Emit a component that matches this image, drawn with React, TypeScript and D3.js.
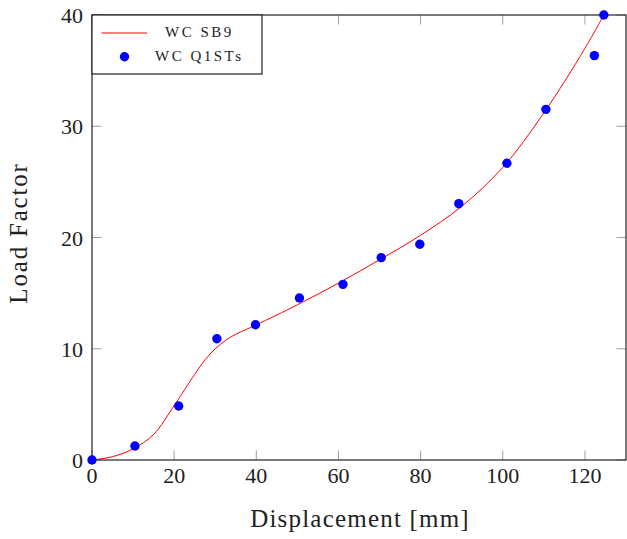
import React from "react";
import * as d3 from "d3";

const lineX = [0, 5, 10, 15, 20, 25, 27.5, 30, 32.5, 35, 40, 50, 60, 70, 80, 90, 100, 110, 120, 124.6];
const lineY = [0, 0.3, 1.0, 2.3, 4.9, 7.7, 9.0, 10.0, 10.75, 11.3, 12.15, 13.95, 15.9, 18.0, 20.2, 22.8, 26.3, 31.2, 37.0, 40.0];

const ptX = [0, 10.45, 21.1, 30.4, 39.8, 50.5, 61.1, 70.4, 79.8, 89.3, 101.0, 110.5, 122.3, 124.6];
const ptY = [0, 1.26, 4.85, 10.9, 12.16, 14.56, 15.79, 18.19, 19.39, 23.04, 26.67, 31.52, 36.35, 40.0];

const xTicks = [0, 20, 40, 60, 80, 100, 120];
const yTicks = [0, 10, 20, 30, 40];

const seriesNames = ["WC SB9", "WC Q1STs"];
const xLabel = "Displacement [mm]";
const yLabel = "Load Factor";

export default function App() {
  const W = 627, H = 539;
  const left = 92, right = 626, top = 15, bottom = 460;
  const x = d3.scaleLinear().domain([0, 130]).range([left, right]);
  const y = d3.scaleLinear().domain([0, 40]).range([bottom, top]);
  const font = "'Liberation Serif', 'DejaVu Serif', serif";
  const linePts: [number, number][] = lineX.map((v, i) => [v, lineY[i]]);
  const path = d3.line<[number, number]>().x(d => x(d[0])).y(d => y(d[1])).curve(d3.curveCatmullRom.alpha(0.5))(linePts) || "";
  const tl = 9.5;
  return (
    <svg width={W} height={H} style={{ position: "absolute", left: 0, top: 0, background: "#fff" }} fontFamily={font}>
      {xTicks.map(t => (
        <g key={"x" + t}>
          <line x1={x(t)} x2={x(t)} y1={bottom} y2={bottom - tl} stroke="#a0a0a0" />
          <line x1={x(t)} x2={x(t)} y1={top} y2={top + tl} stroke="#a0a0a0" />
          <text x={x(t)} y={483} textAnchor="middle" fontSize={22} fill="#222">{t}</text>
        </g>
      ))}
      {yTicks.map(t => (
        <g key={"y" + t}>
          <line x1={left} x2={left + tl} y1={y(t)} y2={y(t)} stroke="#a0a0a0" />
          <line x1={right} x2={right - tl} y1={y(t)} y2={y(t)} stroke="#a0a0a0" />
          <text x={83} y={y(t) + 8} textAnchor="end" fontSize={22} fill="#222">{t}</text>
        </g>
      ))}
      <rect x={left} y={top} width={right - left} height={bottom - top} fill="none" stroke="#222" strokeWidth={1.2} />
      <path d={path} fill="none" stroke="#ff0000" strokeWidth={1} />
      {ptX.map((v, i) => (
        <circle key={"p" + i} cx={x(v)} cy={y(ptY[i])} r={4.7} fill="#0000ff" />
      ))}
      <g>
        <rect x={left} y={top} width={170} height={59} fill="#fff" stroke="#222" strokeWidth={1.2} />
        <line x1={101.5} x2={147} y1={33} y2={33} stroke="#ff0000" strokeWidth={1} />
        <text x={165} y={37} fontSize={15} fill="#222" letterSpacing={2.5}>{seriesNames[0]}</text>
        <circle cx={124.5} cy={56.7} r={4.7} fill="#0000ff" />
        <text x={155} y={61} fontSize={15} fill="#222" letterSpacing={2.5}>{seriesNames[1]}</text>
      </g>
      <text x={360} y={527} textAnchor="middle" fontSize={25} fill="#222" letterSpacing={1.2}>{xLabel}</text>
      <text transform={`translate(27, 233) rotate(-90)`} textAnchor="middle" fontSize={25} fill="#222" letterSpacing={1.8}>{yLabel}</text>
    </svg>
  );
}
